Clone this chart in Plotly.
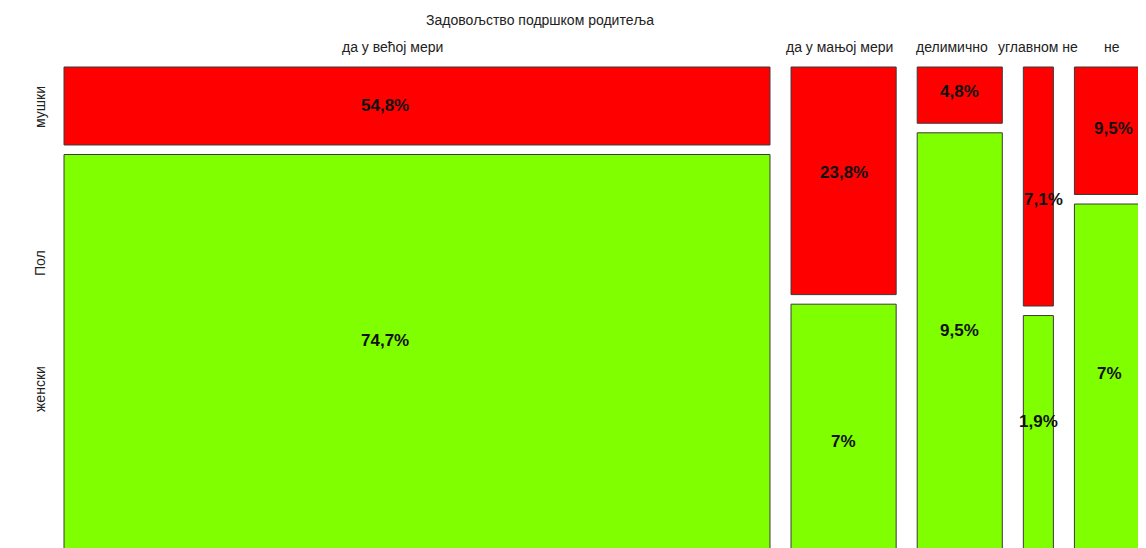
import plotly.graph_objects as go

# satisfaction with parental support (columns) by sex (rows)
satisfaction = ["да у већој мери", "да у мањој мери", "делимично", "углавном не", "не"]
sexes = ["мушки", "женски"]
male_counts = [23, 10, 2, 3, 4]
female_counts = [118, 11, 15, 3, 11]

FONT = "Liberation Sans, Arial, sans-serif"
RED = "#FF0000"
GREEN = "#7FFF00"

X_GAP = 4.2  # gap between columns, in count units
Y_GAP = 0.02  # gap between rows, as share of column height
PAGE_OFF = 8  # the page body margin pushes the figure 8px right/down
W, H = 1146 - PAGE_OFF, 548 - PAGE_OFF


def pct_label(n, total):
    s = f"{100 * n / total:.1f}".rstrip("0").rstrip(".")
    return s.replace(".", ",") + "%"


male_total = sum(male_counts)
female_total = sum(female_counts)
male_labels = [pct_label(n, male_total) for n in male_counts]
female_labels = [pct_label(n, female_total) for n in female_counts]

# mosaic geometry: column width ~ column total, row height ~ share within column
col_tot = [m + f for m, f in zip(male_counts, female_counts)]
x_left = []
pos = 0
for t in col_tot:
    x_left.append(pos)
    pos += t + X_GAP
x_mid = [x + t / 2 for x, t in zip(x_left, col_tot)]
male_h = [m / t for m, t in zip(male_counts, col_tot)]
female_base = [h + Y_GAP for h in male_h]
female_h = [f / t for f, t in zip(female_counts, col_tot)]

fig = go.Figure()
fig.add_trace(
    go.Bar(
        x=x_mid,
        y=male_h,
        base=[0] * len(male_h),
        width=col_tot,
        name=sexes[0],
        marker=dict(color=RED, line=dict(color="#3a3a3a", width=1)),
        hoverinfo="skip",
    )
)
fig.add_trace(
    go.Bar(
        x=x_mid,
        y=female_h,
        base=female_base,
        width=col_tot,
        name=sexes[1],
        marker=dict(color=GREEN, line=dict(color="#3a3a3a", width=1)),
        hoverinfo="skip",
    )
)

# hand-tuned label nudges (pixels), like the original text() placements
male_shift = [(-32, 0), (0, 8), (0, 4), (5, -13), (2, 2)]
female_shift = [(-32, 14), (0, -12), (0, 13), (0, 14), (-2, 6)]

annotations = []
for i in range(len(satisfaction)):
    annotations.append(
        dict(x=x_mid[i], y=male_h[i] / 2, text=male_labels[i], showarrow=False,
             xshift=male_shift[i][0], yshift=male_shift[i][1],
             font=dict(family=FONT, size=17, color="#111111", weight="bold"))
    )
    annotations.append(
        dict(x=x_mid[i], y=female_base[i] + female_h[i] / 2, text=female_labels[i],
             showarrow=False, xshift=female_shift[i][0], yshift=female_shift[i][1],
             font=dict(family=FONT, size=17, color="#111111", weight="bold"))
    )

# column headers
head_shift = [-24, -4, -8, 0, 0]
for i, lab in enumerate(satisfaction):
    annotations.append(
        dict(x=x_mid[i], y=0, yref="y", text=lab, showarrow=False, yanchor="bottom",
             xshift=head_shift[i], yshift=10, font=dict(family=FONT, size=14, color="#222"))
    )


def px_note(px, py, text, angle=0):
    return dict(x=(px - PAGE_OFF) / W, y=1 - (py - PAGE_OFF) / H, xref="paper", yref="paper",
                xanchor="center", yanchor="middle", text=text, textangle=angle,
                showarrow=False, font=dict(family=FONT, size=14, color="#222"))


# row labels and axis titles
annotations += [
    px_note(540, 20, "Задовољство подршком родитеља"),
    px_note(40, 107, sexes[0], -90),
    px_note(40, 263, "Пол", -90),
    px_note(40, 389, sexes[1], -90),
]

PX_PER_UNIT = 5.007
PX_PER_H = 478
left_px = 64 - PAGE_OFF
top_px = 67 - PAGE_OFF
fig.update_layout(
    width=W,
    height=H,
    margin=dict(l=0, r=0, t=0, b=0),
    plot_bgcolor="white",
    paper_bgcolor="white",
    showlegend=False,
    barmode="overlay",
    annotations=annotations,
    xaxis=dict(range=[-left_px / PX_PER_UNIT, (W - left_px) / PX_PER_UNIT], visible=False),
    yaxis=dict(range=[(H - top_px) / PX_PER_H, -top_px / PX_PER_H], visible=False),
)

fig.write_html("out.html")
